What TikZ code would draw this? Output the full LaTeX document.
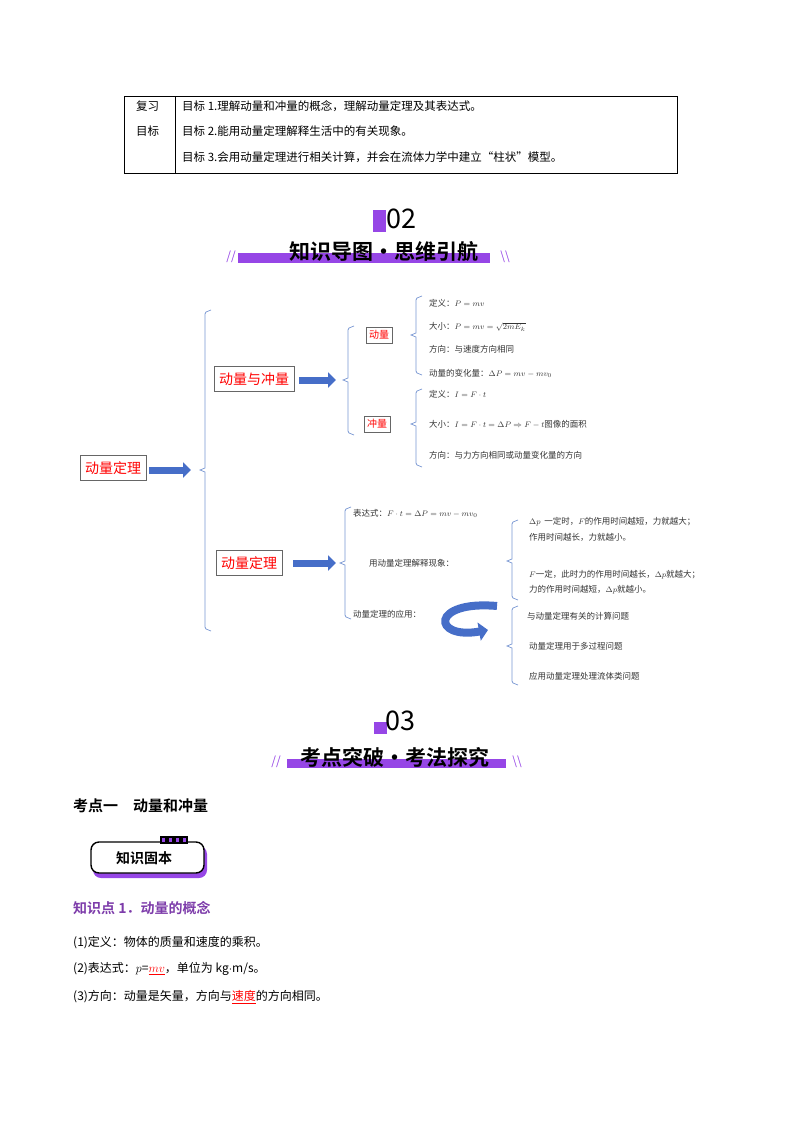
\documentclass[tikz,border=0pt]{standalone}
\usepackage{fontspec}
\setmainfont{Noto Sans CJK SC}
\newfontfamily\cjkb[BoldFont={Noto Sans CJK SC Bold}]{Noto Sans CJK SC}
\usetikzlibrary{arrows.meta}
\definecolor{pur}{RGB}{150,70,230}
\definecolor{hdr}{RGB}{125,60,170}
\definecolor{bl}{RGB}{70,110,200}
\definecolor{br}{RGB}{120,150,210}
\tikzset{
  mbox/.style={draw=black!60,text=red,inner xsep=5pt,minimum height=25pt,font=\fontsize{#1}{#1}\selectfont,anchor=west},
  sbox/.style={draw=black!60,text=red,inner xsep=3pt,minimum height=16pt,font=\fontsize{#1}{#1}\selectfont,anchor=west},
  mt/.style={anchor=west,font=\fontsize{8.5}{10}\selectfont,inner sep=1pt,text=black!80},
  barrow/.style={bl,line width=7pt,-{Triangle[length=8pt,width=15pt]}},
  tt/.style={anchor=west,font=\fontsize{11.5}{13}\selectfont,inner sep=0pt},
  body/.style={anchor=west,font=\fontsize{12}{14}\selectfont,inner sep=0pt}
}
\newcommand\brk[4]{\draw[br,line width=0.7pt] (#1+6,#2) -- (#1+1,#2+2) -- (#1,#2+4) -- (#1,#4-2) -- (#1-5,#4) -- (#1,#4+2) -- (#1,#3-4) -- (#1+1,#3-2) -- (#1+6,#3);}
\begin{document}
\begin{tikzpicture}[x=1pt,y=-1pt]
\useasboundingbox (0,0) rectangle (800,1132);
% table
\draw[black,line width=0.6pt] (124,96) rectangle (677,173);
\draw[black,line width=0.6pt] (175,96) -- (175,173);
\node[tt] (r0a) at (136,106) {复习};
\node[tt] (r0b) at (136,131) {目标};
\node[tt] (r1) at (182,106) {目标 1.理解动量和冲量的概念，理解动量定理及其表达式。};
\node[tt] (r2) at (182,131) {目标 2.能用动量定理解释生活中的有关现象。};
\node[tt] (r3) at (182,157) {目标 3.会用动量定理进行相关计算，并会在流体力学中建立“柱状”模型。};
% header 02
\fill[pur] (373,210) rectangle (386,232);
\node[font=\fontsize{27}{27}\selectfont] (h02) at (401,219) {02};
\fill[pur] (238,253) rectangle (490,263);
\node[font=\cjkb\bfseries\fontsize{21}{21}\selectfont] (t02) at (384,252) {知识导图·思维引航};
\node[text=pur,font=\itshape\fontsize{12}{12}\selectfont] (s1) at (231,257) {//};
\node[text=pur,font=\fontsize{12}{12}\selectfont] (s2) at (505,257) {\textbackslash\textbackslash};
% mind map
\node[mbox=14] (a) at (80,468) {动量定理};
\coordinate (a2) at (191,470);
\draw[barrow] (a.east) ++(3,2) -- (a2);
\brk{205}{310}{631}{470}
\node[mbox=14] (b) at (214,379) {动量与冲量};
\coordinate (b2) at (336,380);
\draw[barrow] (b.east) ++(5,1) -- (b2);
\brk{348}{326}{435}{380}
\node[sbox=10] (c) at (366,335) {动量};
\node[sbox=10] (d) at (364,424) {冲量};
\brk{416}{296}{375}{335}
\brk{416}{389}{467}{424}
\node[mt] (c1) at (428,303) {定义：$P=mv$};
\node[mt] (c2) at (428,327) {大小：$P=mv=\sqrt{2mE_k}$};
\node[mt] (c3) at (428,349) {方向：与速度方向相同};
\node[mt] (c4) at (428,373) {动量的变化量：$\Delta P=mv-mv_0$};
\node[mt] (d1) at (428,394) {定义：$I=F\cdot t$};
\node[mt] (d2) at (428,424) {大小：$I=F\cdot t=\Delta P\Rightarrow F-t$图像的面积};
\node[mt] (d3) at (428,455) {方向：与力方向相同或动量变化量的方向};
\node[mbox=14] (e) at (216,563) {动量定理};
\coordinate (e2) at (336,563);
\draw[barrow] (e.east) ++(11,0) -- (e2);
\brk{345}{507}{619}{563}
\node[mt] (e1) at (352,513) {表达式：$F\cdot t=\Delta P=mv-mv_0$};
\node[mt] (e2) at (368,563) {用动量定理解释现象：};
\node[mt] (e3) at (352,614) {动量定理的应用：};
\brk{512}{520}{600}{561}
\node[mt] (f1) at (528,522) {$\Delta p$\ \ 一定时，$F$的作用时间越短，力就越大；};
\node[mt] (f2) at (528,537) {作用时间越长，力就越小。};
\node[mt] (f3) at (528,575) {$F$一定，此时力的作用时间越长，$\Delta p$就越大；};
\node[mt] (f4) at (528,590) {力的作用时间越短，$\Delta p$就越小。};
\brk{512}{606}{685}{646}
\node[mt] (g1) at (526,616) {与动量定理有关的计算问题};
\node[mt] (g2) at (528,646) {动量定理用于多过程问题};
\node[mt] (g3) at (528,676) {应用动量定理处理流体类问题};
\coordinate (q1) at (497,606);
\coordinate (q2) at (488,630);
\draw[bl,line width=8pt,-{Triangle[length=9pt,width=18pt]}] (q1) .. controls (430,600) and (432,640) .. (q2);
% header 03
\fill[pur] (374,722) rectangle (387,734);
\node[font=\fontsize{27}{27}\selectfont] (h03) at (400,721) {03};
\fill[pur] (287,759) rectangle (506,768);
\node[font=\cjkb\bfseries\fontsize{21}{21}\selectfont] (t03) at (395,757) {考点突破·考法探究};
\node[text=pur,font=\itshape\fontsize{12}{12}\selectfont] (s3) at (276,762) {//};
\node[text=pur,font=\fontsize{12}{12}\selectfont] (s4) at (517,762) {\textbackslash\textbackslash};
\node[anchor=west,inner sep=0pt,font=\cjkb\bfseries\fontsize{15}{15}\selectfont] (k1) at (73,806) {考点一\quad 动量和冲量};
% badge
\fill[pur,rounded corners=8pt] (93,846) rectangle (207,878);
\draw[black,line width=1.4pt,fill=white,rounded corners=8pt] (91,842) rectangle (204,873);
\foreach \i in {0,1,2,3} \draw[black,line width=1.2pt,fill=pur] (161+\i*7,837) rectangle (166+\i*7,843);
\node[font=\cjkb\bfseries\fontsize{14}{14}\selectfont] (kn) at (144,858) {知识固本};
\node[anchor=west,inner sep=0pt,text=hdr,font=\cjkb\bfseries\fontsize{14}{14}\selectfont] (kp) at (73,908) {知识点 1．动量的概念};
\node[body] (l1) at (73,943) {(1)定义：物体的质量和速度的乘积。};
\node[body] (l2) at (73,969) {(2)表达式：$p$=\textcolor{red}{\underline{$mv$}}，单位为 kg$\cdot$m/s。};
\node[body] (l3) at (73,997) {(3)方向：动量是矢量，方向与\textcolor{red}{\underline{速度}}的方向相同。};
\end{tikzpicture}
\end{document}
